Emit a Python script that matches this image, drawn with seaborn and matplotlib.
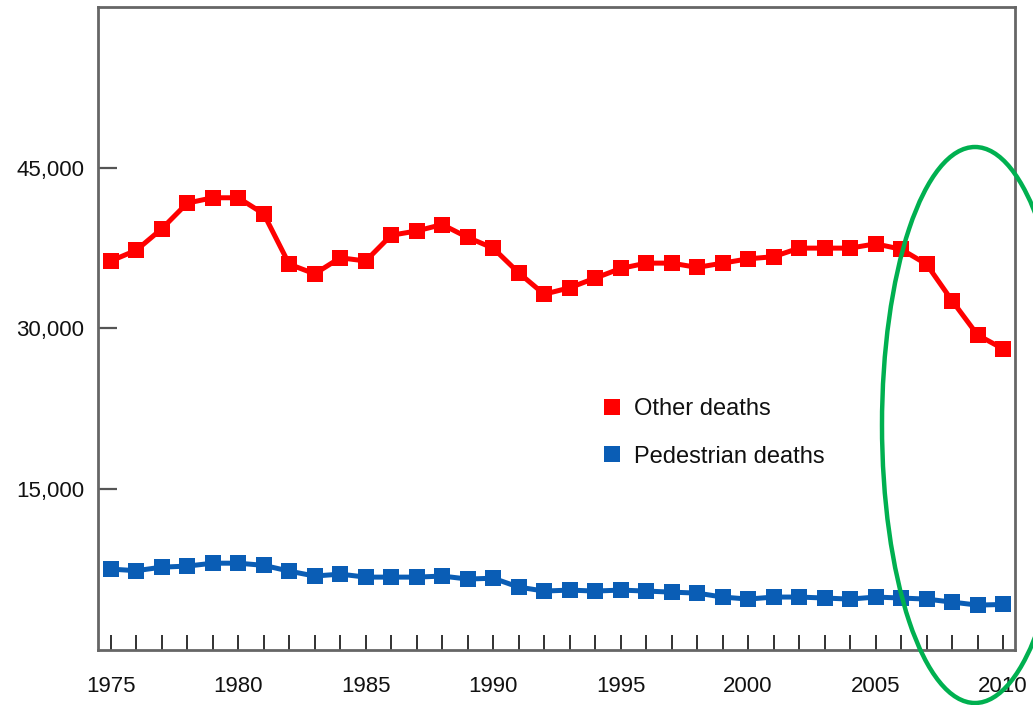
import numpy as np
import matplotlib
matplotlib.use("Agg")
import matplotlib.pyplot as plt
from matplotlib.lines import Line2D
from matplotlib.patches import Ellipse
import seaborn as sns

sns.set_theme(style="white")
plt.rcParams['font.family'] = ['Liberation Sans', 'DejaVu Sans']

# values
years = list(range(1975, 2011))
other_deaths = [36300, 37300, 39300, 41700, 42200, 42200, 40700, 36000, 35100, 36600,
                36300, 38700, 39100, 39700, 38500, 37500, 35200, 33200, 33800, 34700,
                35600, 36100, 36100, 35700, 36100, 36500, 36700, 37500, 37500, 37500,
                37900, 37400, 36000, 32600, 29400, 28100]
pedestrian_deaths = [7550, 7400, 7730, 7830, 8100, 8100, 7900, 7360, 6900, 7080,
                     6800, 6800, 6800, 6900, 6620, 6700, 5870, 5500, 5590, 5500,
                     5590, 5500, 5400, 5310, 4940, 4750, 4940, 4940, 4850, 4750,
                     4940, 4850, 4750, 4470, 4190, 4250]
series_labels = ["Other deaths", "Pedestrian deaths"]
series_colors = ["#FF0000", "#0A5DB5"]
ytick_values = [15000, 30000, 45000]

fig = plt.figure(figsize=(10.33, 7.05), dpi=100)
ax = fig.add_axes([98 / 1033, 1 - 650 / 705, 917 / 1033, 643 / 705])

for vals, col in zip([other_deaths, pedestrian_deaths], series_colors):
    sns.lineplot(x=years, y=vals, color=col, marker='s', markersize=11.5,
                 markeredgewidth=0, linewidth=3.6, legend=False, ax=ax)

ax.set_xlim(1974.5, 2010.47)
ax.set_ylim(0, 60000)
ax.set_xticks(years)
ax.set_xticklabels([str(y) if y % 5 == 0 else "" for y in years])
ax.set_yticks(ytick_values)
ax.set_yticklabels([f"{v:,}" for v in ytick_values])
ax.tick_params(axis='x', direction='in', length=11, width=1.3, color='#222222',
               labelsize=16, labelcolor='#111111', pad=19, bottom=True)
ax.tick_params(axis='y', direction='in', length=14, width=1.6, color='#555555',
               labelsize=16, labelcolor='#111111', pad=10, left=True)
ax.set_xlabel("")
ax.set_ylabel("")
for s in ax.spines.values():
    s.set_color('#666666')
    s.set_linewidth(2)

handles = [Line2D([], [], marker='s', linestyle='none', color=c, markersize=11,
                  markeredgewidth=0) for c in series_colors]
leg = ax.legend(handles, series_labels, frameon=False, fontsize=17,
                loc='upper left', bbox_to_anchor=(481 / 917, (650 - 377) / 643),
                handletextpad=0.45, labelspacing=1.08, handlelength=1.0)
for t in leg.get_texts():
    t.set_color('#111111')

# green highlight ellipse around the last years
ell = Ellipse((975 / 1033, 1 - 425 / 705), 186 / 1033, 556 / 705,
              transform=fig.transFigure, fill=False, edgecolor='#00B050',
              linewidth=3.2, clip_on=False)
fig.patches.append(ell)

fig.savefig("out.png", dpi=100)
